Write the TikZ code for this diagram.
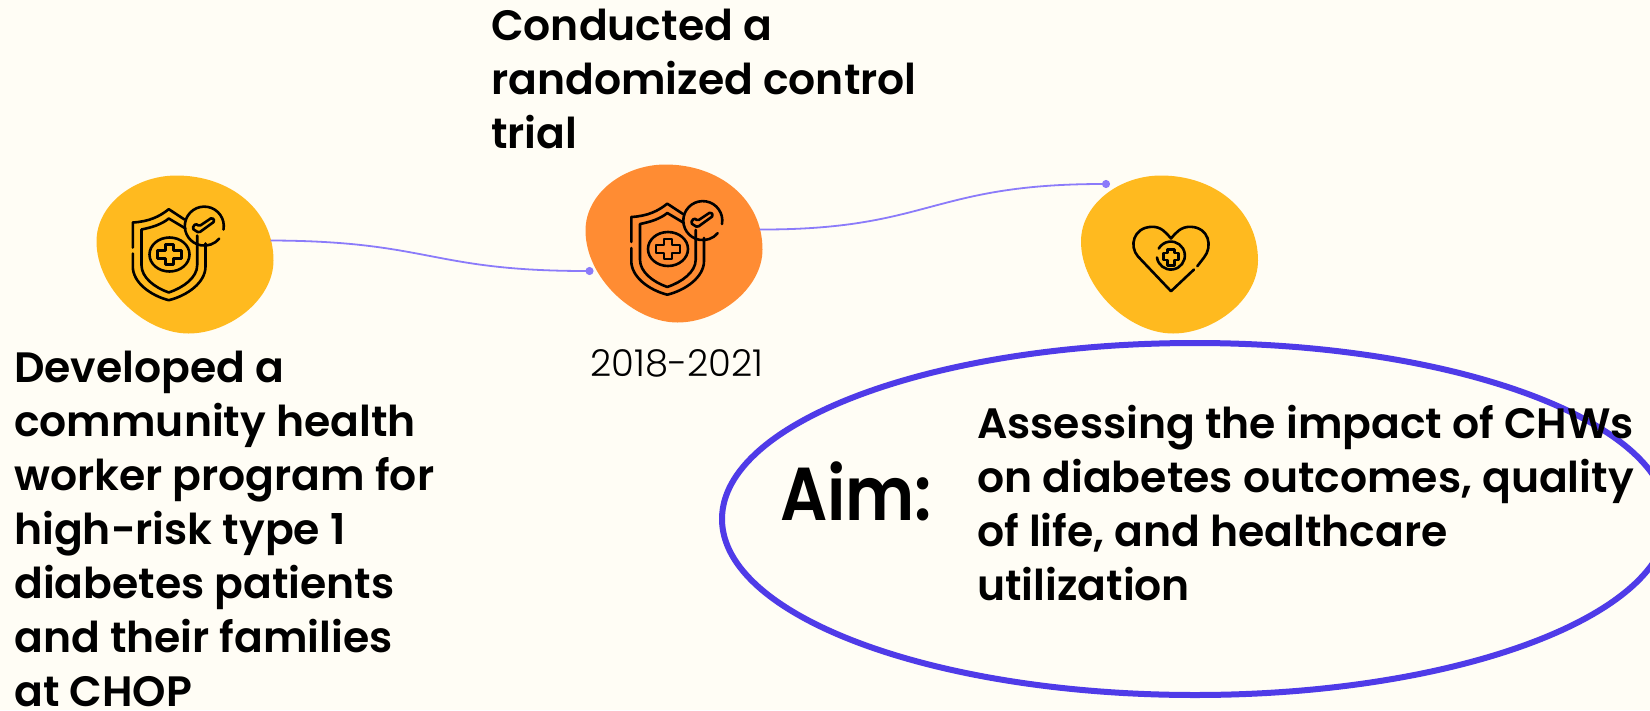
\documentclass[tikz,border=0pt]{standalone}
\usepackage{fontspec}
\setmainfont{Poppins SemiBold}
\newfontfamily\lightfont{Poppins Light}
\usetikzlibrary{arrows.meta, shapes.geometric, positioning}

\definecolor{paperbg}{HTML}{FFFDF5}
\definecolor{blobyellow}{HTML}{FFBA1F}
\definecolor{bloborange}{HTML}{FF8C33}
\definecolor{linkviolet}{HTML}{8B7BFA}
\definecolor{ringblue}{HTML}{4F3BE8}

\tikzset{
    boldtext/.style={anchor=north west, align=left, inner sep=0pt, font=\fontsize{42.5}{54}\selectfont},
    link/.style={linkviolet, line width=1.8pt, -{Circle[length=8pt,width=8pt]}},
    icon/.style={line width=2.6pt, line cap=round, line join=round},
    pics/blob/.style={code={
        \fill[#1] (-8,-79) .. controls (45,-79) and (89,-45) .. (89,6) .. controls (89,45) and (45,79) .. (4,79)
            .. controls (-40,79) and (-88,34) .. (-88,-13) .. controls (-88,-50) and (-50,-79) .. (-8,-79) -- cycle;
        \coordinate (-east) at (86,-14);
        \coordinate (-west) at (-80,27.5);
        \coordinate (-corner) at (-59,-70.5);
    }},
    pics/shield/.style={code={
        % outer and inner outline
        \draw[icon] (-51.7,-7) -- (-51.7,-32) .. controls (-35,-33) and (-25,-38) .. (-15.7,-45.3) -- (0,-35);
        \draw[icon] (21,-11) -- (21,12) .. controls (21,28) and (3,41) .. (-15.7,45.7)
            .. controls (-34,41) and (-51.7,28) .. (-51.7,12) -- (-51.7,-1);
        \draw[icon] (1,-26) -- (-15.7,-36) .. controls (-23,-30) and (-33,-27) .. (-43,-25) -- (-43,10.7)
            .. controls (-43,23) and (-30,33) .. (-15.7,38) .. controls (-1,33) and (12.7,23) .. (12.7,10.7) -- (12.7,-19);
        % cross in its ring
        \draw[icon] (-15,0) ellipse (20 and 17);
        \draw[icon] (-19,-4) -- (-19,-10) -- (-11,-10) -- (-11,-4) -- (-3,-4) -- (-3,4) -- (-11,4) -- (-11,10)
            -- (-19,10) -- (-19,4) -- (-27,4) -- (-27,-4) -- cycle;
        % badge with tick
        \draw[icon] (39,-25) arc (10:-320:19.5);
        \draw[icon, rounded corners=1.5pt] (7.7,-26) -- (14.3,-21.7) -- (30.3,-33.3) -- (27.7,-37) -- (14.7,-28.3) -- (11,-31) -- cycle;
    }},
    pics/heart/.style={code={
        \draw[icon] (25,15) -- (2,36.7) -- (-31,2) .. controls (-40,-8) and (-36,-27) .. (-17.3,-27.7)
            .. controls (-8,-28) and (-3,-22) .. (2,-16) .. controls (7,-22) and (12,-28) .. (21.7,-27.7)
            .. controls (40,-27) and (44,-8) .. (35,3) -- (28.3,11.7);
        \draw[icon] (-12,3) arc (172:-150:14);
        \draw[icon] (-1.5,-1.5) -- (-1.5,-5) -- (5.5,-5) -- (5.5,-1.5) -- (9.5,-1.5) -- (9.5,5.5) -- (5.5,5.5) -- (5.5,11)
            -- (-1.5,11) -- (-1.5,5.5) -- (-5.5,5.5) -- (-5.5,-1.5) -- cycle;
    }},
}

\begin{document}
\begin{tikzpicture}[x=1pt,y=-1pt]

\fill[paperbg] (0,0) rectangle (1650,710);
\useasboundingbox (0,0) rectangle (1650,710);

% Blobs with their icons
\pic (blobdev) at (184.5,254.5) {blob=blobyellow};
\pic at (184.5,254.5) {shield};
\pic (blobtrial) at (673.5,243.5) {blob=bloborange};
\pic at (683,249) {shield};
\pic (blobaim) at (1169,254.5) {blob=blobyellow};
\pic at (1169,254.5) {heart};

% Links
\draw[link] (blobdev-east) .. controls (430,241) and (430,271) .. (blobtrial-west);
\draw[link] (blobtrial-east) .. controls (930,230) and (930,184) .. (blobaim-corner);

% Labels
\node[boldtext] (devtext) at (14,351) {Developed a\\community health\\worker program for\\high-risk type 1\\diabetes patients\\and their families\\at CHOP};
\node[boldtext] (trialtext) at (491,9) {Conducted a\\randomized control\\trial};
\node[anchor=base, font=\lightfont\fontsize{37}{40}\selectfont] (yeartext) at (677,376) {2018-2021};

% Aim ring
\node[draw=ringblue, line width=6pt, ellipse, minimum width=946pt, minimum height=352pt, inner sep=0pt] (aimring) at (1195,519) {};
\node[anchor=base west, inner sep=0pt, font=\fontsize{75}{80}\selectfont] (aimhead) at (780,520) {\scalebox{0.88}[1]{Aim:}};
\node[boldtext] (aimtext) at (977,405) {Assessing the impact of CHWs\\on diabetes outcomes, quality\\of life, and healthcare\\utilization};

\end{tikzpicture}
\end{document}
